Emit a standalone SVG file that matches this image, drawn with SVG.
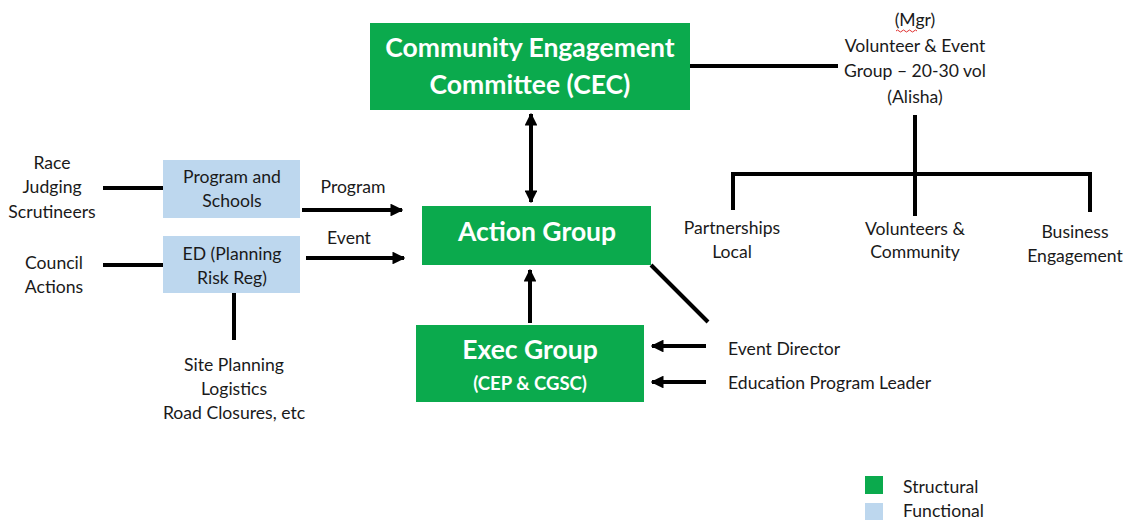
<svg xmlns="http://www.w3.org/2000/svg" width="1130" height="520" viewBox="0 0 1130 520">
  <style>
    text { font-family: Lato, "Open Sans", "Liberation Sans", sans-serif; fill: #1a1a1a; }
    .lbl { font-size: 17.6px; }
    .mid { text-anchor: middle; }
    .head { font-size: 26.5px; font-weight: bold; fill: #ffffff; text-anchor: middle; }
    .sub { font-size: 18.5px; font-weight: bold; fill: #ffffff; text-anchor: middle; }
    .struct { fill: #0BAA4D; }
    .func { fill: #BDD7EE; }
    .line { stroke: #000; stroke-width: 4; fill: none; }
  </style>
  <defs>
    <marker id="ah" viewBox="0 0 10 10" refX="9" refY="5" markerWidth="3.2" markerHeight="3.2" orient="auto-start-reverse">
      <path d="M0,0 L10,5 L0,10 z" fill="#000"/>
    </marker>
  </defs>
  <rect width="1130" height="520" fill="#ffffff"/>

  <!-- connectors -->
  <g id="connectors">
    <line class="line" x1="531" y1="114" x2="531" y2="202" marker-start="url(#ah)" marker-end="url(#ah)"/>
    <line class="line" x1="530" y1="323" x2="530" y2="270" marker-end="url(#ah)"/>
    <line class="line" x1="302" y1="210" x2="402" y2="210" marker-end="url(#ah)"/>
    <line class="line" x1="306" y1="258" x2="404" y2="258" marker-end="url(#ah)"/>
    <line class="line" x1="103" y1="188" x2="163" y2="188"/>
    <line class="line" x1="103" y1="265" x2="163" y2="265"/>
    <line class="line" x1="234" y1="293" x2="234" y2="340"/>
    <line class="line" x1="651" y1="265" x2="708" y2="322"/>
    <line class="line" x1="706" y1="346" x2="652" y2="346" marker-end="url(#ah)"/>
    <line class="line" x1="706" y1="382" x2="652" y2="382" marker-end="url(#ah)"/>
    <line class="line" x1="690" y1="66" x2="838" y2="66"/>
    <line class="line" x1="915" y1="115" x2="915" y2="174"/>
    <polyline class="line" points="733,210 733,174 1090,174 1090,212"/>
    <line class="line" x1="915" y1="174" x2="915" y2="216"/>
  </g>

  <!-- structural nodes -->
  <g id="cec">
    <rect class="struct" x="370" y="23" width="320" height="87"/>
    <text class="head" x="530" y="57">Community Engagement</text>
    <text class="head" x="530" y="94">Committee (CEC)</text>
  </g>
  <g id="action-group">
    <rect class="struct" x="422" y="206" width="229" height="59"/>
    <text class="head" x="537" y="241">Action Group</text>
  </g>
  <g id="exec-group">
    <rect class="struct" x="416" y="325" width="228" height="77"/>
    <text class="head" x="530" y="359">Exec Group</text>
    <text class="sub" x="530" y="390">(CEP &amp; CGSC)</text>
  </g>

  <!-- functional nodes -->
  <g id="program-schools">
    <rect class="func" x="163" y="160" width="137" height="58"/>
    <text class="lbl mid" x="232" y="183">Program and</text>
    <text class="lbl mid" x="232" y="207">Schools</text>
  </g>
  <g id="ed-planning">
    <rect class="func" x="163" y="236" width="137" height="57"/>
    <text class="lbl mid" x="232" y="260">ED (Planning</text>
    <text class="lbl mid" x="232" y="284">Risk Reg)</text>
  </g>

  <!-- side labels -->
  <g id="race-judging">
    <text class="lbl mid" x="52" y="169">Race</text>
    <text class="lbl mid" x="52" y="193">Judging</text>
    <text class="lbl mid" x="52" y="218">Scrutineers</text>
  </g>
  <g id="council-actions">
    <text class="lbl mid" x="54" y="269">Council</text>
    <text class="lbl mid" x="54" y="293">Actions</text>
  </g>
  <g id="site-planning">
    <text class="lbl mid" x="234" y="371">Site Planning</text>
    <text class="lbl mid" x="234" y="395">Logistics</text>
    <text class="lbl mid" x="234" y="419">Road Closures, etc</text>
  </g>
  <g id="flow-labels">
    <text class="lbl mid" x="353" y="193">Program</text>
    <text class="lbl mid" x="349" y="244">Event</text>
  </g>
  <g id="event-director">
    <text class="lbl" x="728" y="355">Event Director</text>
  </g>
  <g id="education-leader">
    <text class="lbl" x="728" y="389">Education Program Leader</text>
  </g>

  <!-- volunteer branch -->
  <g id="volunteer-event-group">
    <text class="lbl mid" x="915" y="26">(Mgr)</text>
    <path d="M896,31 q1.5,-2 3,0 t3,0 t3,0 t3,0 t3,0 t3,0 t3,0" stroke="#e03030" stroke-width="1" fill="none"/>
    <text class="lbl mid" x="915" y="52">Volunteer &amp; Event</text>
    <text class="lbl mid" x="915" y="77">Group – 20-30 vol</text>
    <text class="lbl mid" x="915" y="103">(Alisha)</text>
  </g>
  <g id="partnerships-local">
    <text class="lbl mid" x="732" y="234">Partnerships</text>
    <text class="lbl mid" x="732" y="258">Local</text>
  </g>
  <g id="volunteers-community">
    <text class="lbl mid" x="915" y="235">Volunteers &amp;</text>
    <text class="lbl mid" x="915" y="258">Community</text>
  </g>
  <g id="business-engagement">
    <text class="lbl mid" x="1075" y="238">Business</text>
    <text class="lbl mid" x="1075" y="262">Engagement</text>
  </g>

  <!-- legend -->
  <g id="legend">
    <rect class="struct" x="865" y="476" width="18" height="18"/>
    <rect class="func" x="865" y="503" width="18" height="17"/>
    <text class="lbl" x="903" y="493">Structural</text>
    <text class="lbl" x="903" y="517">Functional</text>
  </g>
</svg>
